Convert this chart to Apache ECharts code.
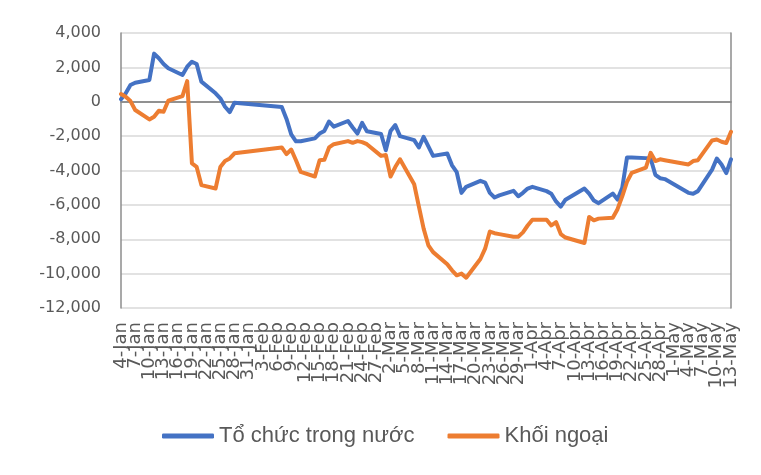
<!DOCTYPE html>
<html>
<head>
<meta charset="utf-8">
<script src="https://cdn.jsdelivr.net/npm/echarts@6/dist/echarts.min.js"></script>
<style>html,body{margin:0;padding:0;background:#fff}#c{width:761px;height:475px}</style>
</head>
<body>
<div id="c"></div>
<script>
// Trading days (2022)
const tradeDates = [
 '2022-01-04','2022-01-05','2022-01-06','2022-01-07','2022-01-10','2022-01-11','2022-01-12','2022-01-13','2022-01-14',
 '2022-01-17','2022-01-18','2022-01-19','2022-01-20','2022-01-21','2022-01-24','2022-01-25','2022-01-26','2022-01-27','2022-01-28',
 '2022-02-07','2022-02-08','2022-02-09','2022-02-10','2022-02-11','2022-02-14','2022-02-15','2022-02-16','2022-02-17','2022-02-18',
 '2022-02-21','2022-02-22','2022-02-23','2022-02-24','2022-02-25','2022-02-28',
 '2022-03-01','2022-03-02','2022-03-03','2022-03-04','2022-03-07','2022-03-08','2022-03-09','2022-03-10','2022-03-11',
 '2022-03-14','2022-03-15','2022-03-16','2022-03-17','2022-03-18','2022-03-21','2022-03-22','2022-03-23','2022-03-24','2022-03-25',
 '2022-03-28','2022-03-29','2022-03-30','2022-03-31',
 '2022-04-01','2022-04-04','2022-04-05','2022-04-06','2022-04-07','2022-04-08','2022-04-12','2022-04-13','2022-04-14','2022-04-15',
 '2022-04-18','2022-04-19','2022-04-20','2022-04-21','2022-04-22','2022-04-25','2022-04-26','2022-04-27','2022-04-28','2022-04-29',
 '2022-05-04','2022-05-05','2022-05-06','2022-05-09','2022-05-10','2022-05-11','2022-05-12','2022-05-13'
];
// Tổ chức trong nước
const domestic = [
 150,490,970,1110,1270,2800,2530,2200,1950,
 1560,2040,2330,2200,1170,490,200,-290,-600,-60,
 -300,-1000,-1900,-2300,-2300,-2130,-1850,-1700,-1150,-1450,
 -1120,-1500,-1850,-1230,-1720,-1880,
 -2820,-1700,-1360,-2000,-2230,-2660,-2040,-2600,-3150,
 -3010,-3700,-4100,-5300,-4950,-4600,-4700,-5300,-5570,-5450,
 -5180,-5500,-5300,-5050,
 -4950,-5200,-5350,-5800,-6100,-5700,-5050,-5350,-5750,-5900,
 -5340,-5690,-5000,-3250,-3250,-3280,-3300,-4250,-4450,-4500,
 -5300,-5350,-5200,-3950,-3300,-3650,-4150,-3350
];
// Khối ngoại
const foreign = [
 450,290,40,-480,-1030,-870,-520,-580,60,
 330,1200,-3590,-3790,-4850,-5050,-3800,-3450,-3300,-3000,
 -2660,-3050,-2780,-3400,-4080,-4350,-3400,-3380,-2660,-2470,
 -2290,-2390,-2290,-2350,-2470,-3150,
 -3100,-4350,-3800,-3350,-4800,-6100,-7380,-8350,-8750,
 -9460,-9810,-10100,-10000,-10240,-9150,-8550,-7550,-7650,-7700,
 -7850,-7850,-7600,-7200,
 -6860,-6860,-7200,-7000,-7700,-7900,-8220,-6700,-6900,-6800,
 -6750,-6250,-5500,-4660,-4140,-3830,-2970,-3450,-3350,-3400,
 -3650,-3450,-3400,-2250,-2200,-2330,-2400,-1750
];
const monthNames = ['Jan','Feb','Mar','Apr','May','Jun','Jul','Aug','Sep','Oct','Nov','Dec'];
const labelEvery = 3;
const yMin = -12000, yMax = 4000, yStep = 2000;

// Build continuous calendar (date axis like the original)
const start = new Date(tradeDates[0] + 'T00:00:00Z');
const end = new Date(tradeDates[tradeDates.length - 1] + 'T00:00:00Z');
const categories = [], keys = [];
for (let d = new Date(start); d <= end; d.setUTCDate(d.getUTCDate() + 1)) {
  categories.push(d.getUTCDate() + '-' + monthNames[d.getUTCMonth()]);
  keys.push(d.toISOString().slice(0, 10));
}
function mapSeries(vals) {
  const m = {};
  tradeDates.forEach((k, i) => m[k] = vals[i]);
  return keys.map(k => (k in m ? m[k] : null));
}
const fmt = v => String(v).replace(/\B(?=(\d{3})+(?!\d))/g, ',');
const frame = {color: '#8c8c8c', width: 1.5};

const chart = echarts.init(document.getElementById('c'), null, {renderer: 'canvas'});
chart.setOption({
  animation: false,
  backgroundColor: '#fff',
  textStyle: {fontFamily: 'DejaVu Sans'},
  grid: {left: 121, right: 30, top: 33, bottom: 167, containLabel: false},
  legend: {
    left: 162, top: 425, padding: 0,
    itemWidth: 52, itemHeight: 5, itemGap: 33,
    icon: 'roundRect',
    textStyle: {fontFamily: 'Liberation Sans', fontSize: 22, color: '#595959'},
    data: ['Tổ chức trong nước', 'Khối ngoại']
  },
  xAxis: [{
    type: 'category', data: categories, boundaryGap: false,
    axisLine: {show: true, lineStyle: frame},
    axisTick: {show: false},
    splitLine: {show: false},
    axisLabel: {interval: 0, hideOverlap: false, rotate: 90, margin: 14,
                formatter: (v, i) => (i % labelEvery === 0 ? v : ''),
                fontSize: 18, color: '#595959', fontFamily: 'DejaVu Sans'}
  }, {
    type: 'category', data: categories, boundaryGap: false, position: 'top',
    axisLine: {show: true, lineStyle: frame}, axisTick: {show: false}, axisLabel: {show: false}, splitLine: {show: false}
  }],
  yAxis: [{
    type: 'value', min: yMin, max: yMax, interval: yStep,
    axisLine: {show: true, lineStyle: frame},
    axisTick: {show: false},
    splitLine: {lineStyle: {color: '#d9d9d9', width: 1.5}},
    axisLabel: {formatter: fmt, fontSize: 16, color: '#595959', margin: 20, fontFamily: 'DejaVu Sans'}
  }, {
    type: 'value', min: yMin, max: yMax, interval: yStep, position: 'right',
    axisLine: {show: true, lineStyle: frame}, axisTick: {show: false}, axisLabel: {show: false}, splitLine: {show: false}
  }],
  series: [
    {name: 'Tổ chức trong nước', type: 'line', data: mapSeries(domestic), connectNulls: true, symbol: 'none',
     lineStyle: {color: '#4472C4', width: 4, join: 'round', cap: 'round'}, itemStyle: {color: '#4472C4'}},
    {name: 'Khối ngoại', type: 'line', data: mapSeries(foreign), connectNulls: true, symbol: 'none',
     lineStyle: {color: '#ED7D31', width: 4, join: 'round', cap: 'round'}, itemStyle: {color: '#ED7D31'}}
  ]
});
</script>
</body>
</html>
